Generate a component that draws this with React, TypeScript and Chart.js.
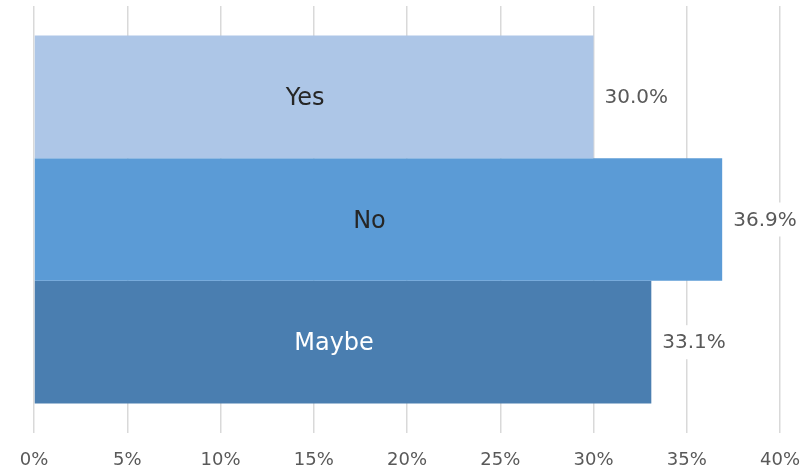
import React, { useEffect, useRef } from "react";
import { Chart, registerables } from "chart.js";

Chart.register(...registerables);

const categories = ["Yes", "No", "Maybe"];
const values = [30.0, 36.9, 33.1];
const barColors = ["#ADC6E7", "#5B9BD6", "#4A7EB0"];
const innerLabelColors = ["#262626", "#262626", "#FFFFFF"];
const axisMin = 0;
const axisMax = 40;
const axisStep = 5;

const FONT = "'DejaVu Sans', sans-serif";

const labelPlugin = {
  id: "barLabels",
  afterDatasetsDraw(chart: any) {
    const ctx = chart.ctx;
    ctx.save();
    chart.data.datasets.forEach((ds: any, i: number) => {
      const meta = chart.getDatasetMeta(i);
      const bar = meta.data[0];
      if (!bar) return;
      const { x, y, base } = bar.getProps(["x", "y", "base"], true);
      ctx.font = `24px ${FONT}`;
      ctx.fillStyle = innerLabelColors[i];
      ctx.textAlign = "center";
      ctx.textBaseline = "middle";
      ctx.fillText(ds.label, (base + x) / 2 - 9, y + 2);
      const txt = values[i].toFixed(1) + "%";
      ctx.font = `20px ${FONT}`;
      const w = ctx.measureText(txt).width;
      const lx = x + 11;
      ctx.fillStyle = "#FFFFFF";
      ctx.fillRect(lx - 4, y - 17, w + 8, 34);
      ctx.fillStyle = "#595959";
      ctx.textAlign = "left";
      ctx.fillText(txt, lx, y + 1);
    });
    ctx.restore();
  },
};

export default function App() {
  const ref = useRef<HTMLCanvasElement | null>(null);
  useEffect(() => {
    if (!ref.current) return;
    const chart = new Chart(ref.current, {
      type: "bar",
      data: {
        labels: [""],
        datasets: categories.map((c, i) => ({
          label: c,
          data: [values[i]],
          backgroundColor: barColors[i],
          borderWidth: 0,
          categoryPercentage: 0.862,
          barPercentage: 1,
        })),
      },
      options: {
        indexAxis: "y",
        animation: false,
        responsive: false,
        layout: { autoPadding: false, padding: { left: 34, right: 32, top: 6, bottom: 0 } },
        plugins: {
          legend: { display: false },
          tooltip: { enabled: false },
        },
        scales: {
          x: {
            min: axisMin,
            max: axisMax,
            afterFit: (scale: any) => {
              scale.height = 43;
            },
            ticks: {
              stepSize: axisStep,
              padding: 0,
              color: "#595959",
              font: { family: FONT, size: 18, lineHeight: 3.05 },
              callback: (v: any) => v + "%",
            },
            grid: { color: "#D9D9D9", lineWidth: 1.5, drawTicks: false },
            border: { display: false },
          },
          y: {
            display: false,
          },
        },
      },
      plugins: [labelPlugin],
    });
    return () => chart.destroy();
  }, []);
  return (
    <div style={{ position: "fixed", left: 0, top: 0, width: 812, height: 476, background: "#fff" }}>
      <canvas ref={ref} width={812} height={476} style={{ width: 812, height: 476, display: "block" }} />
    </div>
  );
}
